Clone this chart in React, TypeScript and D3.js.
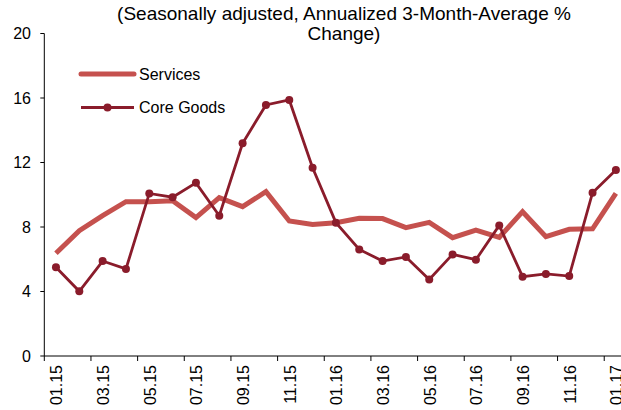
import React from "react";
import * as d3 from "d3";

const categories = [
  "01.15","02.15","03.15","04.15","05.15","06.15","07.15","08.15","09.15","10.15","11.15","12.15",
  "01.16","02.16","03.16","04.16","05.16","06.16","07.16","08.16","09.16","10.16","11.16","12.16","01.17",
];
const services = [6.37, 7.77, 8.7, 9.57, 9.57, 9.63, 8.58, 9.82, 9.26, 10.19, 8.37, 8.16, 8.27, 8.54, 8.52, 7.96, 8.29, 7.34, 7.81, 7.36, 8.95, 7.4, 7.86, 7.89, 10.09];
const coreGoods = [5.5, 4.01, 5.89, 5.4, 10.08, 9.85, 10.74, 8.7, 13.19, 15.57, 15.88, 11.67, 8.27, 6.61, 5.89, 6.14, 4.75, 6.3, 5.97, 8.1, 4.92, 5.09, 4.96, 10.13, 11.53];
const yTicks = [0, 4, 8, 12, 16, 20];
const titleLines = ["(Seasonally adjusted, Annualized 3-Month-Average %", "Change)"];
const seriesNames = ["Services", "Core Goods"];

const W = 621, H = 410;
const FONT = "'Liberation Sans', Arial, sans-serif";
const C_SERV = "#C5514E";
const C_CORE = "#8A1C2B";

export default function App() {
  const x = d3.scaleBand<string>().domain(categories).range([44.3, 44.3 + 25 * 23.33]).paddingInner(0).paddingOuter(0);
  const y = d3.scaleLinear().domain([0, 20]).range([356, 33.5]);
  const cx = (c: string) => (x(c) as number) + x.bandwidth() / 2;
  const line = d3.line<number>().x((_, i) => cx(categories[i])).y((d) => y(d));
  const x0 = 44.3;
  return (
    <svg width={W} height={H} style={{ position: "absolute", left: 0, top: 0, background: "#fff" }} fontFamily={FONT}>
      <rect width={W} height={H} fill="#fff" />
      {titleLines.map((t, i) => (
        <text key={t} x={344} y={20 + i * 19.5} textAnchor="middle" fontSize={19} fill="#000">{t}</text>
      ))}
      {/* y axis */}
      <line x1={x0} x2={x0} y1={y(20)} y2={y(0)} stroke="#000" strokeWidth={1} />
      {yTicks.map((t) => (
        <g key={t}>
          <line x1={x0 - 4} x2={x0} y1={y(t)} y2={y(t)} stroke="#000" />
          <text x={31} y={y(t)} dy="0.36em" textAnchor="end" fontSize={16} fill="#000">{t}</text>
        </g>
      ))}
      {/* x axis */}
      <line x1={x0} x2={W} y1={y(0)} y2={y(0)} stroke="#000" strokeWidth={1} />
      {categories.map((c, i) =>
        i % 2 === 0 ? (
          <g key={c}>
            <line x1={x(c) as number} x2={x(c) as number} y1={y(0)} y2={y(0) + 5} stroke="#000" />
            <text transform={`translate(${cx(c) + 6.5},365) rotate(-90)`} textAnchor="end" fontSize={16} fill="#000">{c}</text>
          </g>
        ) : null
      )}
      {/* series */}
      <path d={line(services) || ""} fill="none" stroke={C_SERV} strokeWidth={5} strokeLinejoin="miter" />
      <path d={line(coreGoods) || ""} fill="none" stroke={C_CORE} strokeWidth={2.8} />
      {coreGoods.map((v, i) => (
        <circle key={i} cx={cx(categories[i])} cy={y(v)} r={4} fill={C_CORE} />
      ))}
      {/* legend */}
      <line x1={81} x2={134} y1={74} y2={74} stroke={C_SERV} strokeWidth={5} strokeLinecap="round" />
      <text x={139} y={74} dy="0.36em" fontSize={16} fill="#000">{seriesNames[0]}</text>
      <line x1={81} x2={134} y1={107.5} y2={107.5} stroke={C_CORE} strokeWidth={2.8} />
      <circle cx={107.5} cy={107.5} r={4} fill={C_CORE} />
      <text x={139} y={107.5} dy="0.36em" fontSize={16} fill="#000">{seriesNames[1]}</text>
    </svg>
  );
}
